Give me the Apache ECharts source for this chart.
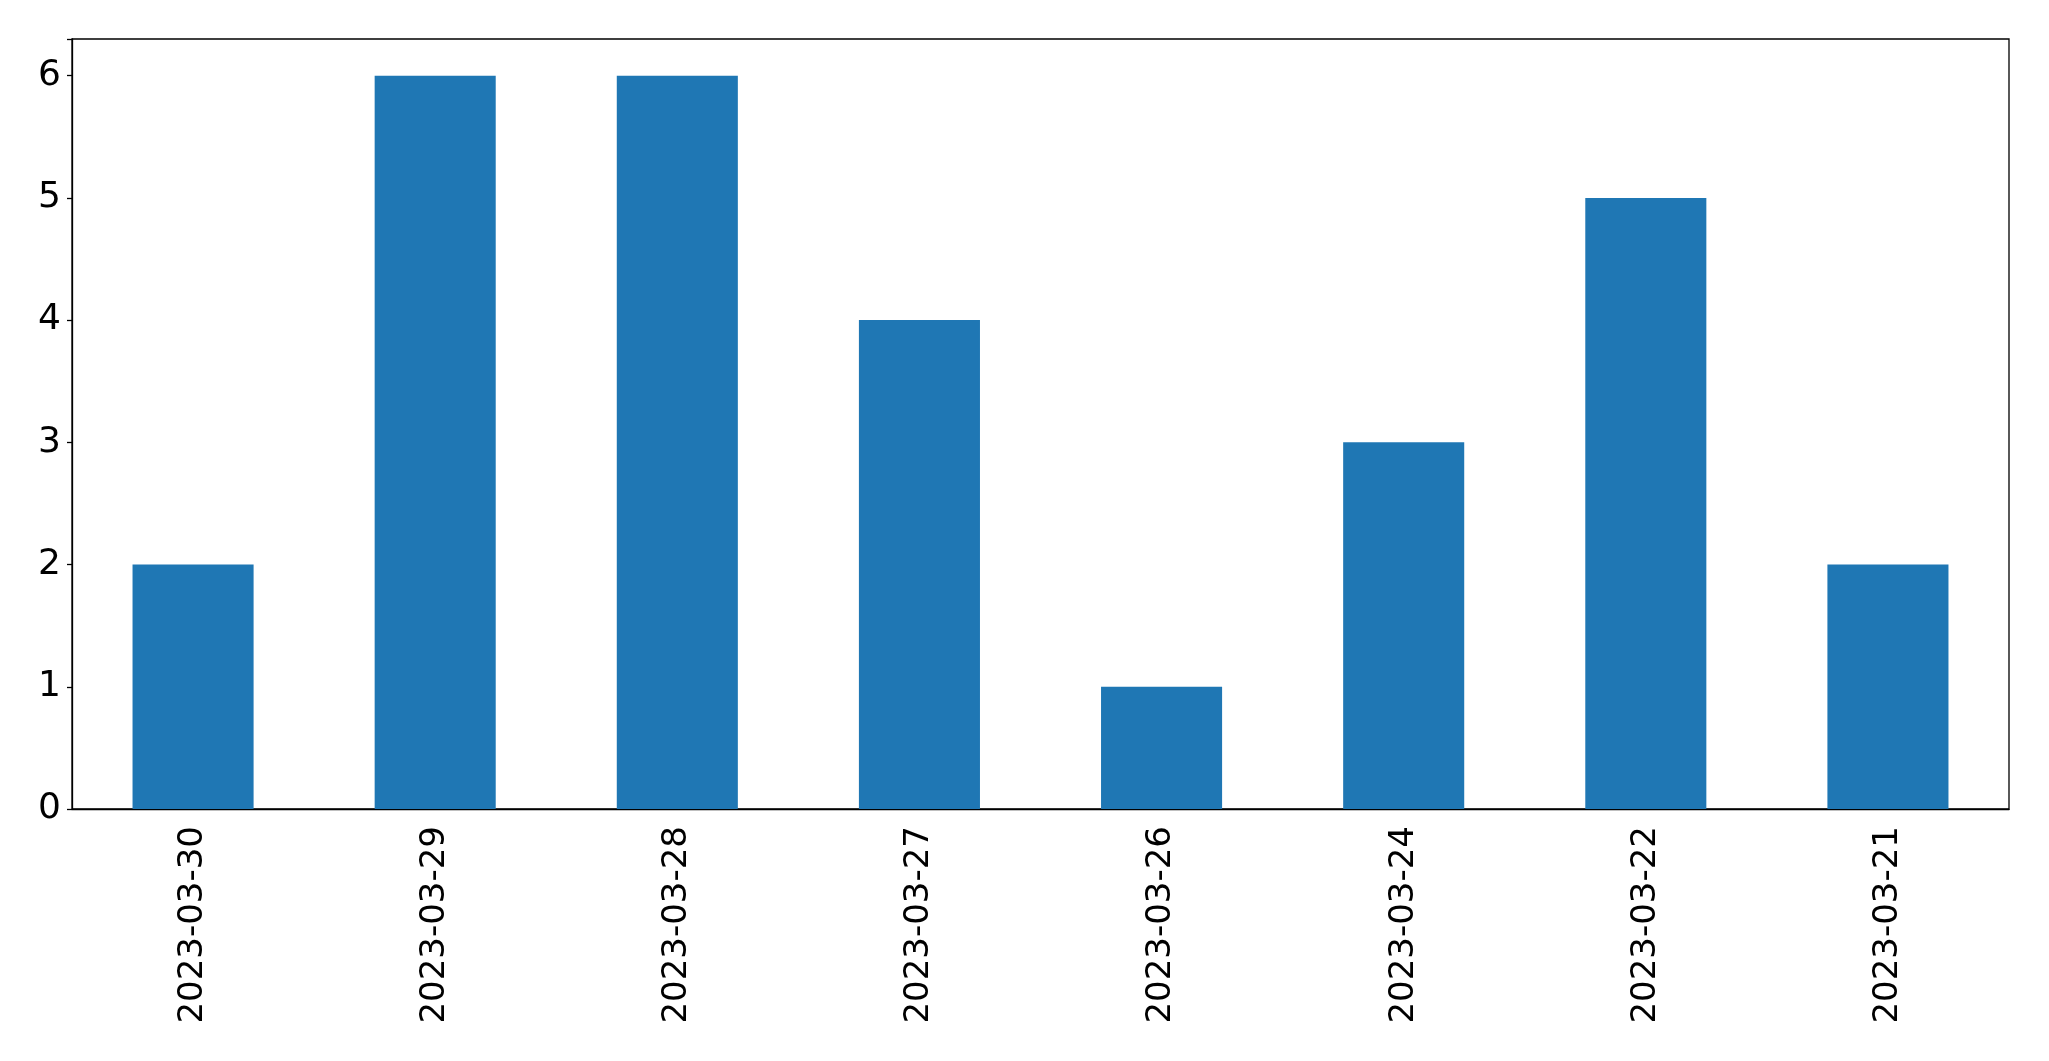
<!DOCTYPE html>
<html><head><meta charset="utf-8">
<script src="https://cdn.jsdelivr.net/npm/echarts@6/dist/echarts.min.js"></script>
<style>html,body{margin:0;padding:0;background:#fff}#c{width:2049px;height:1061px}</style>
</head><body><div id="c"></div>
<script>
const categories = ["2023-03-30","2023-03-29","2023-03-28","2023-03-27","2023-03-26","2023-03-24","2023-03-22","2023-03-21"];
const values = [2,6,6,4,1,3,5,2];
const yTicks = [0,1,2,3,4,5,6];

const chart = echarts.init(document.getElementById('c'), null, {renderer:'canvas'});
const font = 'DejaVu Sans';
chart.setOption({
  animation:false,
  backgroundColor:'#fff',
  grid:{left:72, top:39, right:40, bottom:252, show:true, borderColor:'#000', borderWidth:1.3, containLabel:false},
  xAxis:{
    type:'category', data:categories, boundaryGap:true,
    axisLine:{lineStyle:{color:'#000', width:1.3}},
    axisTick:{alignWithLabel:true, length:5, lineStyle:{color:'#000', width:1.3}},
    axisLabel:{rotate:90, margin:17, color:'#000', fontSize:34, fontFamily:font, interval:0}
  },
  yAxis:{
    type:'value', min:0, max:6.3, interval:1,
    splitLine:{show:false},
    axisLine:{show:true, lineStyle:{color:'#000', width:1.3}},
    axisTick:{show:true, length:5, lineStyle:{color:'#000', width:1.3}},
    axisLabel:{margin:11, color:'#000', fontSize:36, fontFamily:font,
      formatter:v => yTicks.includes(v) ? String(v) : ''}
  },
  series:[{type:'bar', data:values, barWidth:'50%', itemStyle:{color:'#1f77b4'}}]
});
</script></body></html>
